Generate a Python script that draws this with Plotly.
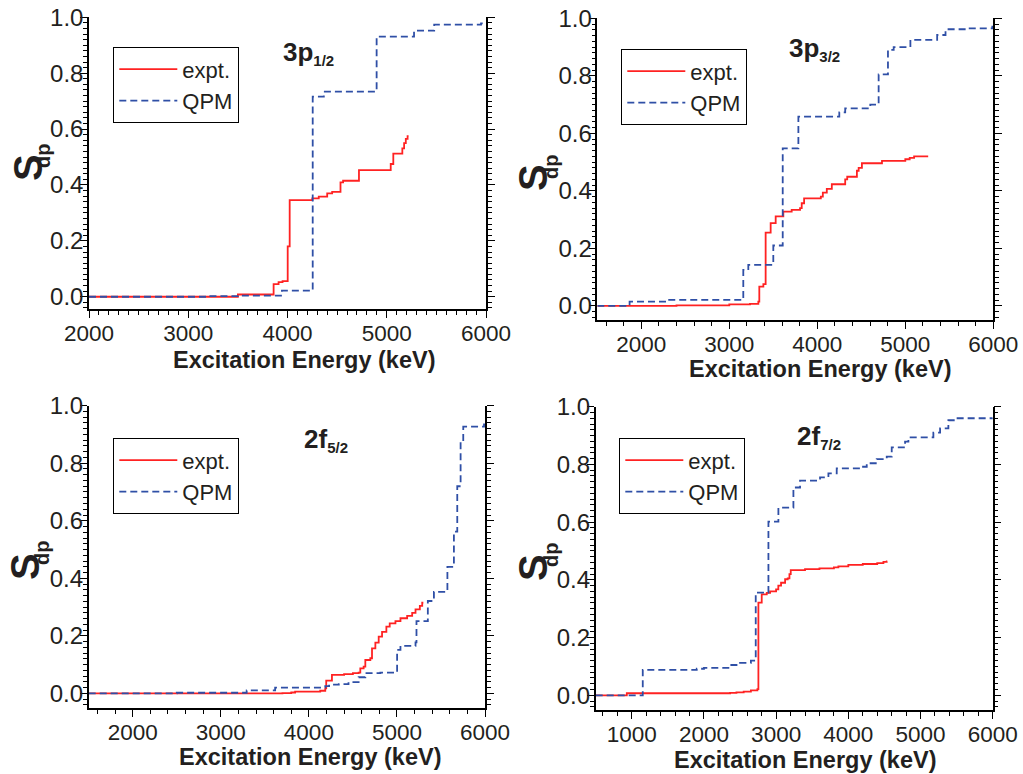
import plotly.graph_objects as go

FONT = "Liberation Sans, Arial, Helvetica, sans-serif"
RED = "#ff2222"
BLUE = "#2f4fa6"
INK = "#231f20"

# ---------------- data (cumulative spectroscopic strength vs excitation energy) ----------------
# Panel 1: 3p1/2
p1_expt_E = [2000, 3500, 3860, 3910, 3950, 4002, 4022, 4250, 4315, 4400, 4450, 4534, 4560, 4720,
             5040, 5066, 5157, 5175, 5192, 5210, 5220]
p1_expt_S = [0.0, 0.008, 0.045, 0.052, 0.056, 0.18, 0.346, 0.352, 0.358, 0.37, 0.375, 0.409, 0.415,
             0.453, 0.475, 0.512, 0.531, 0.55, 0.565, 0.575, 0.575]
p1_qpm_E = [2000, 3200, 3500, 3944, 4254, 4366, 4898, 5275, 5478, 5950, 6000]
p1_qpm_S = [0.0, 0.002, 0.004, 0.022, 0.716, 0.734, 0.931, 0.952, 0.974, 0.978, 0.978]

# Panel 2: 3p3/2
p2_expt_E = [1500, 2400, 3000, 3235, 3330, 3341, 3387, 3413, 3470, 3527, 3614, 3709, 3804, 3823, 3850,
             4040, 4063, 4108, 4165, 4317, 4340, 4450, 4470, 4507, 4735, 5000, 5050, 5100, 5260]
p2_expt_S = [0.0, 0.002, 0.005, 0.007, 0.015, 0.067, 0.076, 0.255, 0.288, 0.311, 0.328, 0.334, 0.34,
             0.357, 0.374, 0.38, 0.394, 0.407, 0.423, 0.44, 0.449, 0.47, 0.48, 0.496, 0.504, 0.51,
             0.515, 0.52, 0.52]
p2_qpm_E = [1500, 1867, 2300, 3159, 3216, 3500, 3607, 3785, 4250, 4317, 4602, 4697, 4803, 4868, 5058,
            5362, 5457, 5704, 5989, 6000]
p2_qpm_S = [0.0, 0.015, 0.021, 0.125, 0.143, 0.21, 0.548, 0.658, 0.673, 0.687, 0.70, 0.805, 0.89,
            0.90, 0.925, 0.942, 0.962, 0.965, 0.971, 0.971]

# Panel 3: 2f5/2
p3_expt_E = [1500, 3700, 3800, 3844, 4129, 4186, 4197, 4262, 4400, 4500, 4565, 4584, 4622, 4641, 4698,
             4717, 4755, 4793, 4831, 4880, 4918, 4983, 5040, 5116, 5173, 5211, 5260, 5287, 5300]
p3_expt_S = [0.0, 0.001, 0.003, 0.006, 0.009, 0.017, 0.044, 0.064, 0.067, 0.070, 0.072, 0.087, 0.093,
             0.116, 0.122, 0.156, 0.176, 0.197, 0.214, 0.232, 0.243, 0.251, 0.261, 0.269, 0.28,
             0.292, 0.304, 0.315, 0.315]
p3_qpm_E = [1500, 2500, 3294, 3617, 4186, 4230, 4340, 4450, 4565, 4641, 4812, 5002, 5040, 5211, 5222,
            5351, 5420, 5573, 5647, 5685, 5723, 5753, 5989, 6000]
p3_qpm_S = [0.0, 0.002, 0.01, 0.02, 0.025, 0.03, 0.032, 0.039, 0.056, 0.07, 0.072, 0.151, 0.165,
            0.177, 0.251, 0.321, 0.353, 0.44, 0.562, 0.72, 0.875, 0.927, 0.935, 0.935]

# Panel 4: 2f7/2
p4_expt_E = [500, 931, 2362, 2450, 2550, 2650, 2740, 2754, 2800, 2870, 2916, 2999, 3030, 3068, 3124,
             3160, 3184, 3202, 3400, 3600, 3800, 3862, 4000, 4200, 4400, 4486, 4532, 4540]
p4_expt_S = [0.0, 0.007, 0.008, 0.010, 0.013, 0.017, 0.021, 0.321, 0.35, 0.355, 0.36, 0.367, 0.38,
             0.39, 0.402, 0.405, 0.42, 0.434, 0.437, 0.44, 0.443, 0.447, 0.452, 0.455, 0.458, 0.462,
             0.464, 0.464]
p4_qpm_E = [500, 1152, 1900, 2000, 2362, 2500, 2650, 2717, 2893, 3031, 3239, 3331, 3608, 3724, 3839,
            4162, 4255, 4393, 4532, 4601, 4786, 4832, 5178, 5271, 5386, 5478, 6000]
p4_qpm_S = [0.0, 0.088, 0.092, 0.095, 0.105, 0.112, 0.12, 0.356, 0.602, 0.65, 0.72, 0.744, 0.755,
            0.769, 0.786, 0.792, 0.804, 0.818, 0.827, 0.859, 0.879, 0.894, 0.91, 0.925, 0.953, 0.96,
            0.962]

orbital_main = ["3p", "3p", "2f", "2f"]
orbital_sub = ["1/2", "3/2", "5/2", "7/2"]
series_names = ["expt.", "QPM"]
x_title = "Excitation Energy (keV)"
y_title_main, y_title_sub = "S", "dp"
y_ticks = [0.0, 0.2, 0.4, 0.6, 0.8, 1.0]

W, H = 1023, 774


def px(x):
    return x / W


def py(y):
    return 1 - y / H


panels = [
    dict(eE=p1_expt_E, eS=p1_expt_S, qE=p1_qpm_E, qS=p1_qpm_S, xr=[2000, 6000], yr=[-0.045, 1.0],
         box=(89, 486, 17.3, 309.3), xt=[2000, 3000, 4000, 5000, 6000], mb=100,
         leg=(113, 47), lab=(281, 35), xtitle=(304.5, 360), S=(28, 168), dp=(43, 156)),
    dict(eE=p2_expt_E, eS=p2_expt_S, qE=p2_qpm_E, qS=p2_qpm_S, xr=[1500, 6000], yr=[-0.049, 1.0],
         box=(597.3, 993.3, 18.3, 320), xt=[2000, 3000, 4000, 5000, 6000], mb=200,
         leg=(621, 49), lab=(787, 31), xtitle=(820, 369), S=(533, 178), dp=(551, 167)),
    dict(eE=p3_expt_E, eS=p3_expt_S, qE=p3_qpm_E, qS=p3_qpm_S, xr=[1500, 6000], yr=[-0.052, 1.0],
         box=(88.7, 485, 405.7, 708.3), xt=[2000, 3000, 4000, 5000, 6000], mb=200,
         leg=(113, 438), lab=(302, 422), xtitle=(310, 757), S=(25, 567), dp=(42, 553)),
    dict(eE=p4_expt_E, eS=p4_expt_S, qE=p4_qpm_E, qS=p4_qpm_S, xr=[500, 6000], yr=[-0.051, 1.0],
         box=(595.7, 992.7, 406.7, 710), xt=[1000, 2000, 3000, 4000, 5000, 6000], mb=200,
         leg=(619, 438), lab=(795, 419), xtitle=(805, 760), S=(533, 568), dp=(551, 555)),
]

fig = go.Figure()
layout = dict(width=W, height=H, margin=dict(l=0, r=0, t=0, b=0, autoexpand=False),
              paper_bgcolor="white", plot_bgcolor="white", showlegend=True,
              font=dict(family=FONT, color=INK))
annotations = []

for i, p in enumerate(panels):
    n = i + 1
    xs = "" if n == 1 else str(n)
    xname, yname = "x" + xs, "y" + xs
    legname = "legend" + xs
    x0, x1, y0, y1 = p["box"]
    fig.add_trace(go.Scatter(x=p["eE"], y=p["eS"], mode="lines", line=dict(color=RED, width=1.8, shape="hv"),
                             name=series_names[0], xaxis=xname, yaxis=yname, legend=legname))
    fig.add_trace(go.Scatter(x=p["qE"], y=p["qS"], mode="lines",
                             line=dict(color=BLUE, width=1.8, shape="hv", dash="7px,4px"),
                             name=series_names[1], xaxis=xname, yaxis=yname, legend=legname))
    common = dict(showline=True, linecolor="black", linewidth=1.5, ticks="outside", tickcolor="black",
                  tickwidth=1.2, ticklen=7, showgrid=False, zeroline=False, automargin=False)
    layout["xaxis" + xs] = dict(common, domain=[px(x0), px(x1)], range=p["xr"], anchor=yname,
                                tickvals=p["xt"], ticktext=[str(v) for v in p["xt"]],
                                tickfont=dict(family=FONT, size=22.5, color=INK), ticklabelstandoff=-4,
                                minor=dict(ticks="outside", dtick=p["mb"], tick0=0, ticklen=4,
                                           tickcolor="black", tickwidth=1))
    layout["xaxis" + str(n + 4)] = dict(common, overlaying=xname, side="top", anchor=yname, range=p["xr"],
                                        tickvals=p["xt"], showticklabels=False,
                                        minor=dict(ticks="outside", dtick=100, tick0=0, ticklen=4,
                                                   tickcolor="black", tickwidth=1))
    layout["yaxis" + xs] = dict(common, domain=[py(y1), py(y0)], range=p["yr"], anchor=xname,
                                tickvals=y_ticks, ticktext=["%.1f" % v for v in y_ticks], mirror="ticks",
                                tickfont=dict(family=FONT, size=24, color=INK), ticklabelstandoff=-8,
                                minor=dict(ticks="outside", dtick=0.02, tick0=0, ticklen=4,
                                           tickcolor="black", tickwidth=1))
    layout[legname] = dict(x=px(p["leg"][0]), y=py(p["leg"][1]), xanchor="left", yanchor="top",
                           bordercolor="black", borderwidth=1.3, bgcolor="white", itemwidth=58,
                           font=dict(family=FONT, size=22, color=INK), tracegroupgap=0)
    annotations.append(dict(xref="paper", yref="paper", x=px(p["lab"][0]), y=py(p["lab"][1]),
                            xanchor="left", yanchor="top", showarrow=False,
                            text="<b>%s<sub><span style='font-size:15px'>%s</span></sub></b>"
                                 % (orbital_main[i], orbital_sub[i]),
                            font=dict(family=FONT, size=26, color=INK)))
    annotations.append(dict(xref="paper", yref="paper", x=px(p["xtitle"][0]), y=py(p["xtitle"][1]),
                            xanchor="center", yanchor="middle", showarrow=False,
                            text="<b>%s</b>" % x_title, font=dict(family=FONT, size=23.5, color=INK)))
    annotations.append(dict(xref="paper", yref="paper", x=px(p["S"][0]), y=py(p["S"][1]),
                            xanchor="center", yanchor="middle", showarrow=False, textangle=-90,
                            text="<b>%s</b>" % y_title_main, font=dict(family=FONT, size=40, color=INK)))
    annotations.append(dict(xref="paper", yref="paper", x=px(p["dp"][0]), y=py(p["dp"][1]),
                            xanchor="center", yanchor="middle", showarrow=False, textangle=-90,
                            text="<b>%s</b>" % y_title_sub, font=dict(family=FONT, size=20, color=INK)))

layout["annotations"] = annotations
fig.update_layout(**layout)
fig.write_html("out.html")
